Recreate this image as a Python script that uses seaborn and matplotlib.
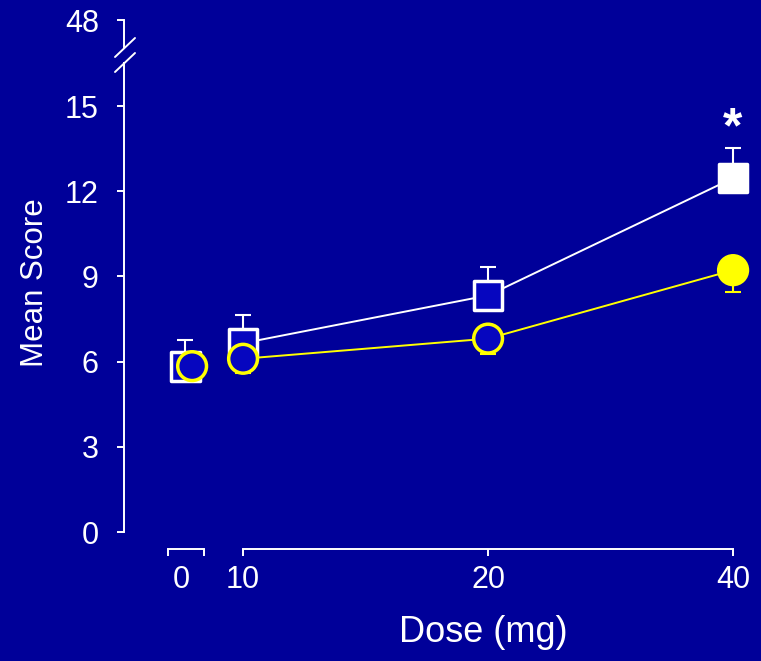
import numpy as np
import pandas as pd
import matplotlib
matplotlib.use("Agg")
import matplotlib.pyplot as plt
import seaborn as sns
from matplotlib.lines import Line2D

# ---------------- data ----------------
doses = [0, 10, 20, 40]
dose_labels = ["0", "10", "20", "40"]
square_mean = [5.82, 6.65, 8.33, 12.46]
square_err = [0.93, 0.99, 1.00, 1.07]
circle_mean = [5.84, 6.10, 6.81, 9.22]
circle_err = [0.45, 0.50, 0.55, 0.77]
square_filled = [False, False, False, True]
circle_filled = [False, False, False, True]
y_ticks = [0, 3, 6, 9, 12, 15]
y_top_tick = [48]

# ---------------- layout / style ----------------
BG = "#000099"
FILL = "#0606BF"
YEL = "#FFFF00"
pos_map = {0: 0.765, 10: 1.0, 20: 2.0, 40: 3.0}
circle_dx = {0: 0.027}
FONT = ["Liberation Sans", "DejaVu Sans"]
TICK_FS = 22

sns.set_style("ticks")
plt.rcParams["font.family"] = FONT

df = pd.DataFrame({
    "dose": doses * 2,
    "group": ["square"] * 4 + ["circle"] * 4,
    "mean": square_mean + circle_mean,
    "err": square_err + circle_err,
    "filled": square_filled + circle_filled,
})
df["x"] = [pos_map[d] for d in doses] + [pos_map[d] + circle_dx.get(d, 0) for d in doses]
sq = df[df.group == "square"]
ci = df[df.group == "circle"]

fig = plt.figure(figsize=(7.61, 6.61), dpi=100, facecolor=BG)
L, W = 124 / 761, 637 / 761
rect = [L, 129 / 661, W, 470 / 661]
ax = fig.add_axes(rect)
ax.set_facecolor("none")
ax0 = fig.add_axes(rect)
ax0.set_facecolor("none")
axt = fig.add_axes([L, 614 / 661, W, 27 / 661])
axt.set_facecolor("none")

XL = (0.514, 3.114)
YL = (0, 16.55)

# lines (doses > 0 connected)
sns.lineplot(data=df[df.dose > 0], x="x", y="mean", hue="group",
             palette={"square": "white", "circle": YEL}, estimator=None,
             linewidth=1.4, legend=False, ax=ax, zorder=2)

# one-sided error bars
ax.errorbar(sq["x"], sq["mean"], yerr=[np.zeros(len(sq)), sq["err"]], fmt="none",
            ecolor="white", elinewidth=1.5, capsize=6, capthick=1.5, zorder=3, clip_on=False)
ax.errorbar(ci["x"], ci["mean"], yerr=[ci["err"], np.zeros(len(ci))], fmt="none",
            ecolor=YEL, elinewidth=1.5, capsize=6, capthick=1.5, zorder=3, clip_on=False)

# markers
sns.scatterplot(data=sq, x="x", y="mean", hue="filled", palette={False: FILL, True: "white"},
                marker="s", s=420, edgecolor="white", linewidth=2.5, legend=False,
                ax=ax, zorder=4, clip_on=False)
sns.scatterplot(data=ci, x="x", y="mean", hue="filled", palette={False: FILL, True: YEL},
                marker="o", s=430, edgecolor=YEL, linewidth=2.5, legend=False,
                ax=ax, zorder=5, clip_on=False)

# significance star
ax.text(pos_map[40], 13.72, "*", ha="center", va="baseline", color="white",
        fontsize=36, fontweight="bold")

# ---- main axes ----
ax.set_xlim(*XL)
ax.set_ylim(*YL)
for s in ["top", "right"]:
    ax.spines[s].set_visible(False)
ax.spines["left"].set_bounds(0, 16.5)
ax.spines["bottom"].set_position(("outward", 12.24))
ax.spines["bottom"].set_bounds(1, 3)
for s in ["left", "bottom"]:
    ax.spines[s].set_color("white")
    ax.spines[s].set_linewidth(1.4)
ax.set_yticks(y_ticks)
ax.set_yticklabels([str(v) for v in y_ticks])
ax.set_xticks([pos_map[d] for d in doses[1:]])
ax.set_xticklabels(dose_labels[1:])
ax.tick_params(axis="both", colors="white", width=1.4, length=5, labelsize=TICK_FS, direction="out")
ax.tick_params(axis="y", pad=13)
ax.tick_params(axis="x", pad=6.5)
ax.set_xlabel("Dose (mg)", fontsize=26, color="white")
ax.xaxis.set_label_coords(0.5636, -0.1766)
ax.set_ylabel("Mean Score", fontsize=22.5, color="white")
ax.yaxis.set_label_coords(-0.1166, 0.531)

# ---- zero segment of x axis ----
ax0.set_xlim(*XL)
ax0.set_ylim(*YL)
for s in ["top", "right", "left"]:
    ax0.spines[s].set_visible(False)
ax0.spines["bottom"].set_position(("outward", 12.24))
ax0.spines["bottom"].set_bounds(0.694, 0.841)
ax0.spines["bottom"].set_color("white")
ax0.spines["bottom"].set_linewidth(1.4)
ax0.set_yticks([])
ax0.set_xticks([0.694, 0.841])
ax0.set_xticklabels(["", ""])
ax0.set_xticks([0.746], minor=True)
ax0.set_xticklabels([dose_labels[0]], minor=True)
ax0.tick_params(axis="x", which="major", colors="white", width=1.4, length=5, direction="out")
ax0.tick_params(axis="x", which="minor", colors="white", length=0, pad=11.5, labelsize=TICK_FS)

# ---- top (48) segment of y axis ----
axt.set_ylim(46.9, 48)
axt.set_xlim(*XL)
for s in ["top", "right", "bottom"]:
    axt.spines[s].set_visible(False)
axt.spines["left"].set_color("white")
axt.spines["left"].set_linewidth(1.4)
axt.set_xticks([])
axt.set_yticks(y_top_tick)
axt.set_yticklabels([str(v) for v in y_top_tick])
axt.tick_params(axis="y", colors="white", width=1.4, length=5, labelsize=TICK_FS, pad=13, direction="out")

# break marks
for y0, y1 in [(57, 38), (72, 53)]:
    fig.add_artist(Line2D([115 / 761, 135 / 761], [1 - y0 / 661, 1 - y1 / 661],
                          transform=fig.transFigure, color="white", lw=1.4))

fig.savefig("out.png", dpi=100, facecolor=BG)
